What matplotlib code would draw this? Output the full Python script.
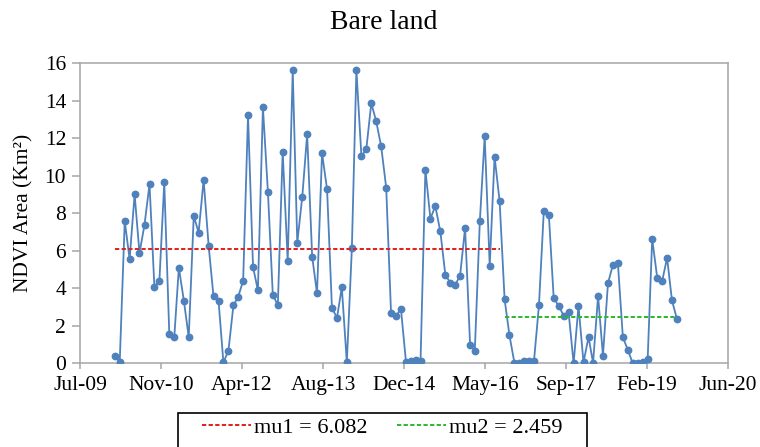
import numpy as np
import pandas as pd
import matplotlib
matplotlib.use('Agg')
import matplotlib.pyplot as plt
import matplotlib.dates as mdates
from matplotlib.patches import Rectangle

# monthly bare-land NDVI area, Feb 2010 .. Aug 2019
area = [
    0.41, 0.05, 7.59, 5.55, 9.01, 5.88, 7.39, 9.55, 4.09, 4.41,
    9.65, 1.58, 1.42, 5.10, 3.34, 1.39, 7.87, 6.97, 9.78, 6.26,
    3.57, 3.34, 0.05, 0.67, 3.09, 3.54, 4.41, 13.24, 5.14, 3.89,
    13.65, 9.12, 3.66, 3.09, 11.29, 5.46, 15.62, 6.43, 8.89, 12.21,
    5.69, 3.73, 11.21, 9.28, 2.97, 2.42, 4.05, 0.05, 6.13, 15.64,
    11.04, 11.41, 13.87, 12.92, 11.57, 9.37, 2.67, 2.52, 2.90, 0.09,
    0.15, 0.17, 0.12, 10.33, 7.71, 8.39, 7.04, 4.73, 4.30, 4.19,
    4.67, 7.22, 0.98, 0.66, 7.57, 12.11, 5.19, 11.02, 8.66, 3.41,
    1.49, 0.00, 0.02, 0.15, 0.12, 0.10, 3.09, 8.14, 7.93, 3.47,
    3.06, 2.54, 2.72, 0.00, 3.06, 0.05, 1.40, 0.03, 3.59, 0.41,
    4.27, 5.24, 5.37, 1.39, 0.73, 0.00, 0.00, 0.05, 0.21, 6.63,
    4.57, 4.37, 5.62, 3.36, 2.35,
]
start_month = '2010-02-01'

# change point: first segment has 79 months
n_first = 79
mu1 = 6.082
mu2 = 2.459

tick_start = '2009-07-06'
tick_step_days = 500
n_ticks = 9

dates = pd.date_range(start_month, periods=len(area), freq='MS') + pd.Timedelta(days=7)
ticks = pd.date_range(tick_start, periods=n_ticks, freq='%dD' % tick_step_days)

plt.rcParams['font.family'] = ['Liberation Serif', 'DejaVu Serif']

fig = plt.figure(figsize=(7.6, 4.47), dpi=100)
ax = fig.add_axes([0.1053, 0.1872, 0.8526, 0.6712])

ax.plot(dates, area, '-o', color='#4F81BD', lw=1.3, ms=4.6, zorder=3)

ax.plot([dates[0], dates[n_first - 1]], [mu1, mu1], color='#E0201B',
        lw=1.4, dashes=(2.2, 1.2), label='mu1 = %.3f' % mu1, zorder=4)
ax.plot([dates[n_first], dates[-1]], [mu2, mu2], color='#2DB82D',
        lw=1.4, dashes=(2.2, 1.2), label='mu2 = %.3f' % mu2, zorder=4)

ax.set_xlim(ticks[0], ticks[-1])
ax.set_xticks(ticks)
ax.xaxis.set_major_formatter(mdates.DateFormatter('%b-%y'))
ax.set_ylim(0, 16)
ax.set_yticks(np.arange(0, 17, 2))

for s in ax.spines.values():
    s.set_color('#A6A6A6')
    s.set_linewidth(1.1)
ax.tick_params(axis='both', colors='#A6A6A6', labelcolor='black',
               labelsize=15.5, length=4, width=1.1)
ax.tick_params(axis='x', pad=5)
ax.tick_params(axis='y', length=6, pad=4)

ax.set_ylabel('NDVI Area (Km\u00b2)', fontsize=15.5, labelpad=8)
fig.text(0.505, 0.950, 'Bare land', ha='center', va='center', fontsize=20)

# legend drawn without its own frame; a plain box goes round it
leg = fig.legend(loc='center', bbox_to_anchor=(0.503, 0.043), ncol=2,
                 fontsize=16, frameon=False,
                 handlelength=2.2, handletextpad=0.15, columnspacing=1.3,
                 borderpad=0.0, borderaxespad=0.0)
box = Rectangle((178 / 760, -0.02), (587 - 178) / 760, (447 - 413) / 447 + 0.02,
                transform=fig.transFigure, fill=False, edgecolor='black',
                linewidth=1.2, clip_on=False)
fig.add_artist(box)

fig.savefig('out.png', dpi=100)
